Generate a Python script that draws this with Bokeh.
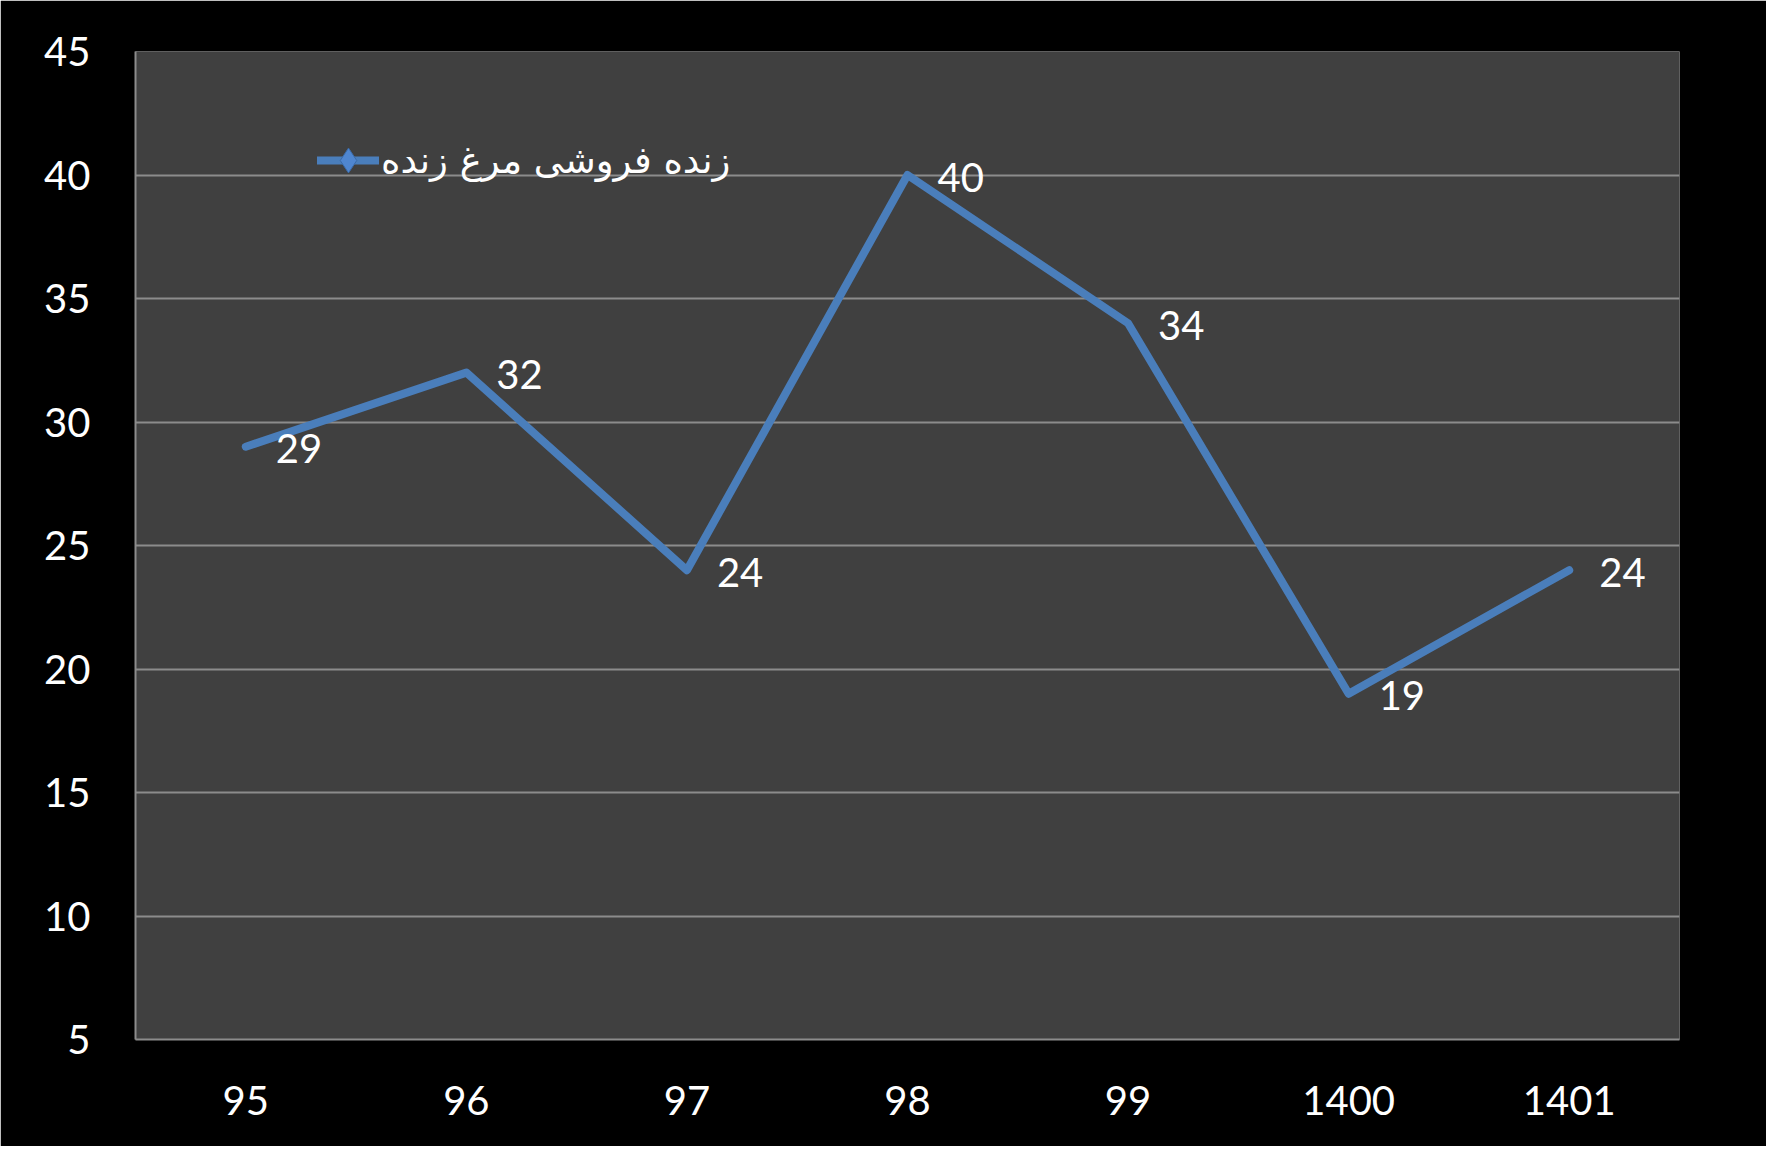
from bokeh.plotting import figure
from bokeh.models import (ColumnDataSource, FactorRange, Range1d, FixedTicker,
                          LabelSet, Legend, LegendItem)
from bokeh.core.properties import value
from bokeh.embed import file_html
from bokeh.resources import INLINE

years = ["95", "96", "97", "98", "99", "1400", "1401"]
values = [29, 32, 24, 40, 34, 19, 24]
y_ticks = [5, 10, 15, 20, 25, 30, 35, 40, 45]
series_name = "زنده فروشی مرغ زنده"

LINE_COLOR = "#4a7ebb"
GRID = "#8c8c8c"
FONT = "Lato"

src = ColumnDataSource(dict(x=years, y=values, lab=[str(v) for v in values]))

p = figure(width=1766, height=1146, output_backend="svg", toolbar_location=None,
           x_range=FactorRange(*years, range_padding=0), y_range=Range1d(5, 45),
           background_fill_color="#404040", border_fill_color="black",
           outline_line_color=None,
           min_border_left=135, min_border_top=51, min_border_right=87,
           min_border_bottom=107)

line = p.line("x", "y", source=src, line_color=LINE_COLOR, line_width=8,
              line_join="round", line_cap="round")
# diamond marker shown only in the legend (no markers drawn on the series)
mark = p.scatter("x", "y", source=src, marker="diamond", size=25,
                 fill_color="#4f86d0", line_color="#3a6aa8",
                 line_width=1, visible=False)

labels = LabelSet(x="x", y="y", text="lab", source=src, x_offset=30, y_offset=-2,
                  text_color="white", text_font=value(FONT), text_font_size="40px",
                  text_baseline="middle", text_align="left")
p.add_layout(labels)

p.xgrid.grid_line_color = None
p.ygrid.grid_line_color = GRID
p.ygrid.grid_line_width = 2
p.yaxis.ticker = FixedTicker(ticks=y_ticks)

for ax in (p.xaxis[0], p.yaxis[0]):
    ax.axis_line_color = GRID
    ax.axis_line_width = 2
    ax.major_tick_line_color = None
    ax.minor_tick_line_color = None
    ax.major_label_text_color = "white"
    ax.major_label_text_font = FONT
    ax.major_label_text_font_size = "40px"
p.yaxis.major_label_standoff = 39
p.xaxis.major_label_standoff = 40

legend = Legend(items=[LegendItem(label=series_name, renderers=[line, mark])],
                location=(182, 848), padding=0, margin=0, spacing=0,
                glyph_width=62, glyph_height=62, label_standoff=2,
                background_fill_alpha=0, border_line_color=None,
                click_policy="none",
                label_text_color="white", label_text_font="DejaVu Sans",
                label_text_font_size="37px", label_height=30)
p.add_layout(legend)

open("out.html", "w").write(file_html(p, INLINE))
